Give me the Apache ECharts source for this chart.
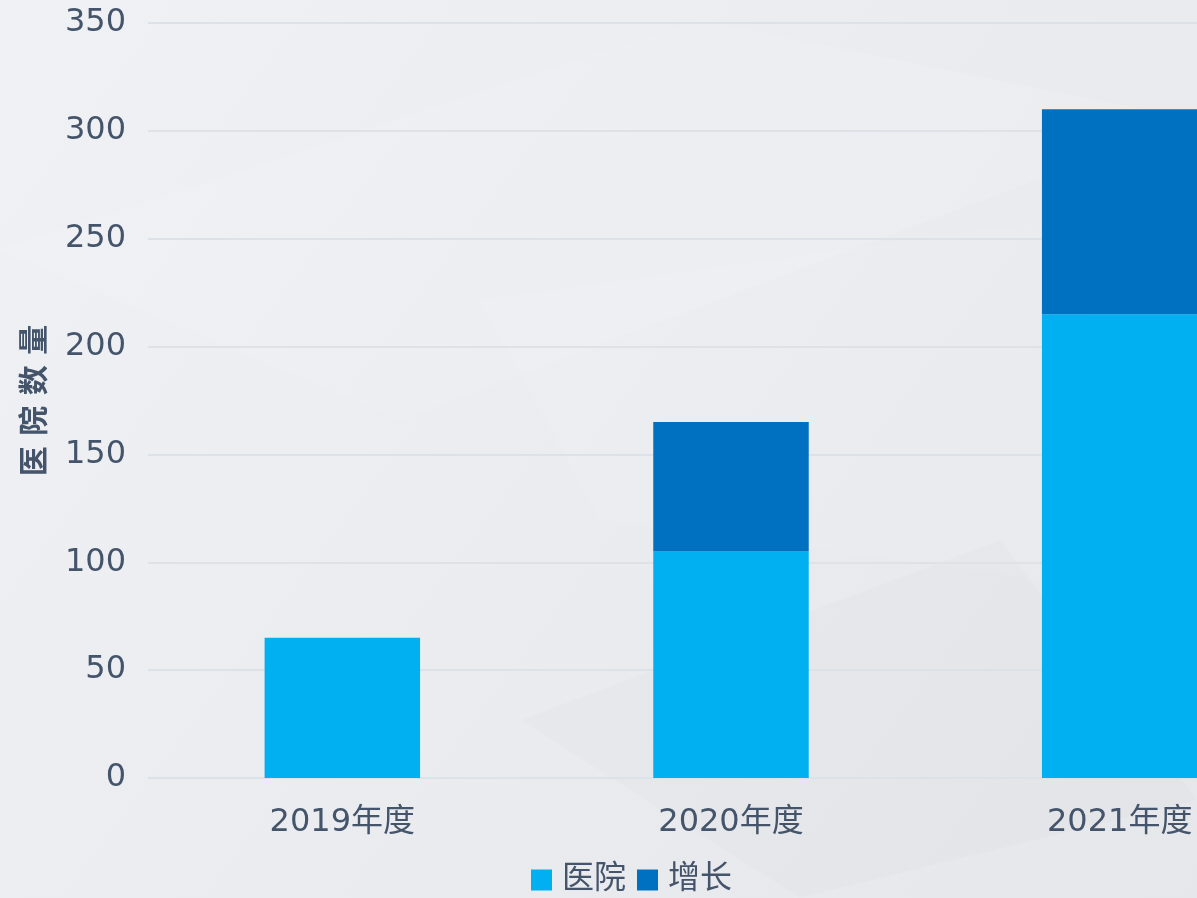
<!DOCTYPE html>
<html><head><meta charset="utf-8">
<script src="https://cdn.jsdelivr.net/npm/echarts@6/dist/echarts.min.js"></script>
<style>html,body{margin:0;padding:0;}#c{width:1197px;height:898px;}</style>
</head><body><div id="c"></div>
<script>
const categories = ['2019年度', '2020年度', '2021年度'];
const hospitalValues = [65, 105, 215];
const growthValues = [0, 60, 95];
const yTicks = { min: 0, max: 350, interval: 50 };

const chart = echarts.init(document.getElementById('c'));
const txt = '#44546A';
const font = 'DejaVu Sans, "Noto Sans CJK SC", sans-serif';
chart.setOption({
  backgroundColor: {
    type: 'linear', x: 0, y: 0, x2: 1, y2: 1,
    colorStops: [{ offset: 0, color: '#eff1f4' }, { offset: 1, color: '#e5e7eb' }]
  },
  graphic: [
    { type: 'polygon', silent: true, z: -10, shape: { points: [[0, 250], [700, 20], [1197, 120], [400, 420]] }, style: { fill: 'rgba(255,255,255,0.10)' } },
    { type: 'polygon', silent: true, z: -10, shape: { points: [[480, 300], [1197, 200], [1197, 600], [600, 520]] }, style: { fill: 'rgba(255,255,255,0.07)' } },
    { type: 'polygon', silent: true, z: -10, shape: { points: [[520, 720], [1000, 540], [1197, 800], [800, 898]] }, style: { fill: 'rgba(0,0,0,0.01)' } }
  ],
  textStyle: { fontFamily: font },
  color: ['#00B0F0', '#0070C0'],
  legend: {
    bottom: -3, left: 526,
    icon: 'rect', itemWidth: 21, itemHeight: 21, itemGap: 11,
    textStyle: { fontSize: 32, color: txt, fontFamily: font, padding: [0, 0, 0, 5] },
    data: ['医院', '增长']
  },
  grid: { left: 148, width: 1166, top: 23, bottom: 120, containLabel: false, outerBoundsMode: 'none' },
  xAxis: {
    type: 'category', data: categories,
    axisLine: { show: false }, axisTick: { show: false },
    axisLabel: { fontSize: 32, color: txt, margin: 29, fontFamily: font }
  },
  yAxis: {
    type: 'value', min: yTicks.min, max: yTicks.max, interval: yTicks.interval,
    name: '医 院 数 量', nameLocation: 'middle', nameGap: 97, nameRotate: 90,
    nameTextStyle: { fontSize: 30, fontWeight: 'bold', color: txt, fontFamily: font },
    axisLine: { show: false }, axisTick: { show: false },
    axisLabel: { fontSize: 32, color: txt, margin: 22, fontFamily: font, padding: [6, 0, 0, 0] },
    splitLine: { lineStyle: { color: '#dde2e8', width: 2 } }
  },
  series: [
    { name: '医院', type: 'bar', stack: 'a', barWidth: '40%', data: hospitalValues },
    { name: '增长', type: 'bar', stack: 'a', barWidth: '40%', data: growthValues }
  ]
});
</script></body></html>
